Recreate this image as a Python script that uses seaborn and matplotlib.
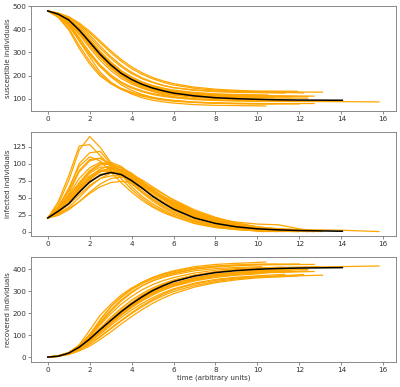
import pandas as pd
import matplotlib
matplotlib.use("Agg")
import matplotlib.pyplot as plt
import seaborn as sns

# shared sampling times for the stochastic runs
T_GRID = [0, 0.5, 1, 1.5, 2, 2.5, 3, 3.5, 4, 4.5, 5, 5.5, 6, 7, 8, 9, 10]

# extra tail times for every run (last one is when the run stops)
TAIL_T = [
    [10.9], [12.0], [10.4], [12.7], [11.0], [13.1], [12.7],
    [12, 14, 15.8], [11.3], [12.2], [11, 12, 12.9], [10.6], [11.8], [10.2],
    [10.5], [12.4], [11.6], [10.8], [10.3], [11.9], [12.4], [11.2],
]

# susceptible individuals per run (grid values + tail values)
S_RUNS = [
    [480, 455, 405, 330, 262, 205, 170, 145, 128, 114, 104, 97, 92, 85, 81, 79, 78, 78],
    [480, 452, 398, 318, 250, 198, 165, 140, 124, 111, 101, 94, 89, 83, 80, 78, 77, 77],
    [480, 460, 420, 350, 280, 215, 172, 142, 120, 104, 93, 86, 81, 74, 71, 70, 69, 68],
    [480, 462, 425, 365, 298, 240, 195, 160, 136, 118, 106, 98, 92, 85, 82, 80, 79, 79],
    [480, 464, 432, 385, 330, 278, 235, 200, 175, 155, 140, 129, 120, 109, 102, 98, 96, 96],
    [480, 470, 450, 418, 375, 328, 283, 245, 214, 190, 172, 158, 148, 138, 133, 131, 130, 128],
    [480, 467, 442, 402, 352, 300, 256, 220, 193, 172, 156, 144, 135, 124, 118, 115, 113, 111],
    [480, 463, 435, 390, 336, 282, 238, 200, 170, 148, 131, 118, 108, 98, 94, 91, 89, 88, 87, 86],
    [480, 468, 446, 410, 365, 318, 275, 238, 208, 186, 170, 157, 147, 136, 130, 127, 126, 124],
    [480, 470, 452, 422, 385, 343, 300, 262, 230, 205, 186, 171, 159, 145, 137, 132, 129, 125],
    [480, 466, 440, 400, 350, 298, 252, 214, 185, 164, 148, 137, 128, 118, 110, 104, 98, 93, 90, 89],
    [480, 462, 432, 386, 332, 278, 232, 196, 170, 150, 136, 126, 118, 108, 102, 99, 97, 96],
    [480, 465, 436, 392, 340, 288, 245, 210, 184, 165, 151, 141, 133, 123, 117, 114, 112, 110],
    [480, 458, 415, 352, 290, 238, 198, 168, 146, 130, 118, 110, 104, 96, 92, 90, 89, 89],
    [480, 468, 444, 404, 356, 305, 260, 222, 194, 172, 157, 146, 137, 127, 121, 118, 117, 116],
    [480, 464, 437, 394, 343, 291, 246, 208, 180, 159, 144, 133, 125, 115, 108, 105, 103, 102],
    [480, 467, 440, 398, 348, 296, 250, 213, 186, 166, 150, 139, 130, 119, 113, 110, 108, 107],
    [480, 463, 434, 389, 336, 284, 240, 205, 179, 160, 146, 136, 128, 118, 112, 108, 106, 105],
    [480, 461, 428, 378, 320, 266, 222, 188, 163, 145, 132, 122, 115, 106, 101, 98, 96, 96],
    [480, 471, 455, 428, 392, 350, 308, 270, 238, 212, 192, 177, 165, 150, 141, 136, 133, 132],
    [480, 466, 439, 395, 344, 292, 248, 212, 186, 166, 151, 140, 131, 121, 114, 111, 110, 109],
    [480, 459, 420, 362, 300, 246, 204, 172, 150, 134, 122, 114, 108, 100, 95, 93, 92, 92],
]

# infected individuals per run
I_RUNS = [
    [20, 40, 75, 120, 140, 124, 102, 84, 66, 52, 41, 32, 25, 14, 7, 4, 2, 0],
    [20, 44, 82, 126, 128, 112, 96, 78, 62, 49, 38, 30, 23, 12, 6, 3, 1, 0],
    [20, 34, 62, 100, 116, 118, 100, 84, 70, 57, 45, 35, 27, 15, 8, 4, 1, 0],
    [20, 32, 56, 88, 104, 108, 98, 86, 72, 58, 47, 37, 29, 16, 9, 5, 2, 0],
    [20, 30, 48, 64, 80, 90, 92, 86, 76, 64, 53, 43, 34, 21, 12, 6, 3, 0],
    [20, 26, 36, 50, 66, 78, 86, 88, 84, 76, 66, 56, 46, 30, 18, 10, 5, 0],
    [20, 30, 44, 60, 76, 88, 92, 90, 82, 72, 62, 50, 41, 26, 16, 9, 5, 0],
    [20, 32, 50, 70, 88, 98, 100, 94, 84, 72, 61, 52, 44, 30, 19, 11, 6, 3, 2, 0],
    [20, 28, 40, 54, 68, 78, 82, 82, 78, 70, 60, 51, 43, 28, 17, 10, 5, 0],
    [20, 24, 32, 44, 56, 66, 72, 74, 72, 66, 58, 50, 43, 30, 20, 12, 7, 0],
    [20, 30, 44, 62, 78, 88, 94, 92, 84, 72, 60, 48, 40, 26, 18, 14, 11, 10, 4, 0],
    [20, 32, 52, 72, 90, 100, 102, 96, 84, 72, 60, 48, 38, 22, 12, 6, 2, 0],
    [20, 30, 47, 66, 82, 90, 88, 82, 74, 64, 54, 44, 36, 23, 14, 8, 4, 0],
    [20, 36, 64, 96, 110, 104, 88, 72, 58, 46, 36, 28, 22, 12, 6, 3, 1, 0],
    [20, 27, 42, 60, 72, 84, 88, 87, 80, 71, 60, 50, 42, 27, 17, 10, 5, 0],
    [20, 33, 46, 63, 81, 92, 97, 94, 86, 74, 62, 51, 41, 25, 15, 9, 4, 0],
    [20, 28, 45, 57, 74, 82, 90, 86, 80, 68, 58, 49, 39, 24, 14, 8, 4, 0],
    [20, 31, 52, 68, 86, 95, 94, 90, 80, 70, 57, 47, 38, 23, 13, 8, 3, 0],
    [20, 34, 54, 78, 94, 102, 98, 90, 78, 66, 54, 44, 35, 21, 12, 7, 3, 0],
    [20, 24, 34, 44, 58, 70, 78, 80, 78, 72, 64, 55, 47, 32, 21, 13, 7, 0],
    [20, 29, 46, 64, 78, 88, 93, 90, 82, 70, 60, 50, 42, 26, 16, 9, 4, 0],
    [20, 36, 60, 90, 106, 108, 100, 88, 74, 60, 49, 39, 31, 18, 10, 5, 2, 0],
]

# recovered individuals per run
R_RUNS = [
    [0, 5, 20, 50, 98, 171, 228, 271, 306, 334, 355, 371, 383, 401, 412, 417, 420, 422],
    [0, 4, 20, 56, 122, 190, 239, 282, 314, 340, 361, 376, 388, 405, 414, 419, 422, 423],
    [0, 6, 18, 50, 104, 167, 228, 274, 310, 339, 362, 379, 392, 411, 421, 426, 430, 432],
    [0, 6, 19, 47, 98, 152, 207, 254, 292, 324, 347, 365, 379, 399, 409, 415, 419, 421],
    [0, 6, 20, 51, 90, 132, 173, 214, 249, 281, 307, 328, 346, 370, 386, 396, 401, 404],
    [0, 4, 14, 32, 59, 94, 131, 167, 202, 234, 262, 286, 306, 332, 349, 359, 365, 372],
    [0, 3, 14, 38, 72, 112, 152, 190, 225, 256, 282, 306, 324, 350, 366, 376, 382, 389],
    [0, 5, 15, 40, 76, 120, 162, 206, 246, 280, 308, 330, 348, 372, 387, 398, 405, 409, 411, 414],
    [0, 4, 14, 36, 67, 104, 143, 180, 214, 244, 270, 292, 310, 336, 353, 363, 369, 376],
    [0, 6, 16, 34, 59, 91, 128, 164, 198, 229, 256, 279, 298, 325, 343, 356, 364, 375],
    [0, 4, 16, 38, 72, 114, 154, 194, 231, 264, 292, 315, 332, 356, 372, 382, 391, 397, 406, 411],
    [0, 6, 16, 42, 78, 122, 166, 208, 246, 278, 304, 326, 344, 370, 386, 395, 401, 404],
    [0, 5, 17, 42, 78, 122, 167, 208, 242, 271, 295, 315, 331, 354, 369, 378, 384, 390],
    [0, 6, 21, 52, 100, 158, 214, 260, 296, 324, 346, 362, 374, 392, 402, 407, 410, 411],
    [0, 5, 14, 36, 72, 111, 152, 191, 226, 257, 283, 304, 321, 346, 362, 372, 378, 384],
    [0, 3, 17, 43, 76, 117, 157, 198, 234, 267, 294, 316, 334, 360, 377, 386, 393, 398],
    [0, 5, 15, 45, 78, 122, 160, 201, 234, 266, 292, 312, 331, 357, 373, 382, 388, 393],
    [0, 6, 14, 43, 78, 121, 166, 205, 241, 270, 297, 317, 334, 359, 375, 384, 391, 395],
    [0, 5, 18, 44, 86, 132, 180, 222, 259, 289, 314, 334, 350, 373, 387, 395, 401, 404],
    [0, 5, 11, 28, 50, 80, 114, 150, 184, 216, 244, 268, 288, 318, 338, 351, 360, 368],
    [0, 5, 15, 41, 78, 120, 159, 198, 232, 264, 289, 310, 327, 353, 370, 380, 386, 391],
    [0, 5, 20, 48, 94, 146, 196, 240, 276, 306, 329, 347, 361, 382, 395, 402, 406, 408],
]

# deterministic (mean-field) solution
T_DET = [0, 0.5, 1, 1.5, 2, 2.5, 3, 3.5, 4, 4.5, 5, 5.5, 6, 7, 8, 9, 10, 11, 12, 13, 14.05]
S_DET = [480, 466, 441, 397, 345, 292, 247, 210, 183, 162, 146, 134, 124, 112, 104, 100, 97, 95, 94, 93.5, 93]
I_DET = [20, 30, 41, 58, 73, 83, 87, 84, 75, 64, 52, 42, 33, 20, 12, 7, 4, 2.5, 1.5, 1, 0.5]
R_DET = [0, 4, 18, 45, 82, 125, 166, 206, 242, 274, 302, 324, 343, 368, 384, 393, 399, 402.5, 404.5, 405.5, 406.5]

Y_LABELS = ['susceptible individuals', 'infected individuals', 'recovered individuals']

# long format table of all runs
rows = []
for k in range(len(S_RUNS)):
    times = T_GRID + TAIL_T[k]
    for j, t in enumerate(times):
        rows.append({'run': k, 't': t, 'S': S_RUNS[k][j],
                     'I': I_RUNS[k][j], 'R': R_RUNS[k][j]})
runs = pd.DataFrame(rows)
det = pd.DataFrame({'t': T_DET, 'S': S_DET, 'I': I_DET, 'R': R_DET})

plt.rcParams.update({
    'axes.edgecolor': '#777777',
    'axes.linewidth': 0.6,
    'xtick.color': '#777777',
    'ytick.color': '#777777',
    'xtick.labelcolor': '#333333',
    'ytick.labelcolor': '#333333',
    'xtick.major.size': 2,
    'ytick.major.size': 2,
    'xtick.major.width': 0.6,
    'ytick.major.width': 0.6,
    'xtick.labelsize': 5.2,
    'ytick.labelsize': 5.2,
})

fig, axes = plt.subplots(3, 1, figsize=(4, 3.87), dpi=100)
fig.subplots_adjust(left=0.078, right=0.989, top=0.984, bottom=0.065, hspace=0.2)

for ax, col, label in zip(axes, ['S', 'I', 'R'], Y_LABELS):
    sns.lineplot(data=runs, x='t', y=col, units='run', estimator=None,
                 color='orange', lw=0.9, sort=False, ax=ax, legend=False)
    sns.lineplot(data=det, x='t', y=col, color='black', lw=1.1, sort=False, ax=ax)
    ax.set_ylabel(label, fontsize=5, color='#333333', labelpad=1)
    ax.set_xlabel('')
    ax.set_xticks(range(0, 17, 2))
    ax.tick_params(pad=1.5)

axes[0].set_yticks([100, 200, 300, 400, 500])
axes[1].set_yticks([0, 25, 50, 75, 100, 125])
axes[2].set_yticks([0, 100, 200, 300, 400])
axes[2].set_xlabel('time (arbitrary units)', fontsize=5, color='#333333', labelpad=1)

plt.savefig('out.png', dpi=100)
